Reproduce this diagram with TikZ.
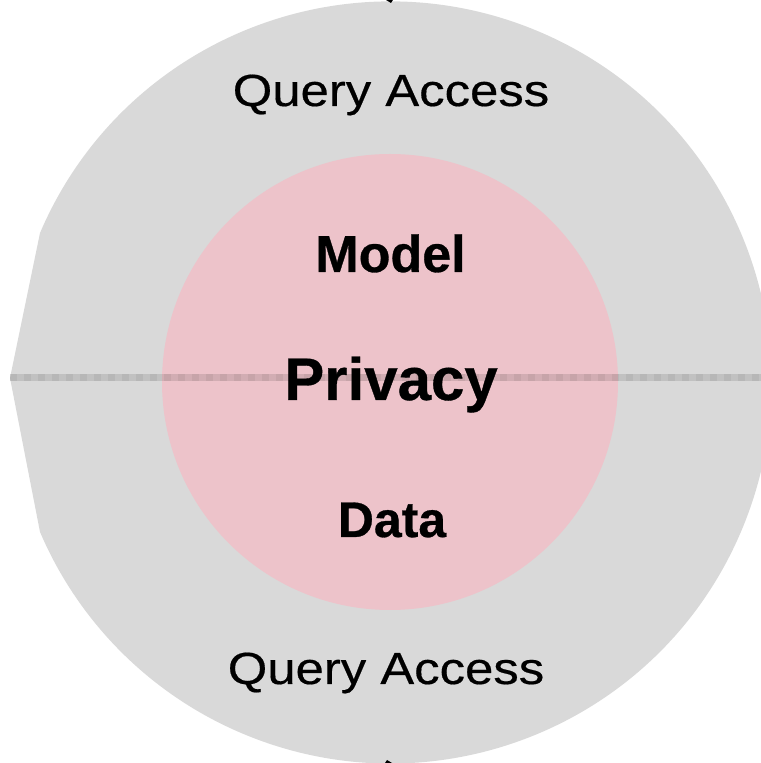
\documentclass[tikz,border=0pt]{standalone}
\usepackage{fontspec}
\setmainfont{Liberation Sans}
\newfontfamily\ringfont[FakeStretch=1.13,FakeBold=0.4]{Liberation Sans}
\newfontfamily\corefont{Liberation Sans}[BoldFont={Liberation Sans Bold},BoldFeatures={FakeBold=0.6}]
\definecolor{ringgray}{HTML}{D9D9D9}
\definecolor{corepink}{HTML}{EDC3CA}
\tikzset{
  ringlabel/.style={anchor=base, inner sep=0pt, font=\ringfont\fontsize{45bp}{50bp}\selectfont},
  corelabel/.style={anchor=base, inner sep=0pt, font=\corefont\bfseries\fontsize{#1}{#1}\selectfont},
  divider/.style={line width=7bp, black, opacity=0.11},
  dividerdash/.style={line width=7bp, black, opacity=0.05, dash pattern=on 7bp off 7bp},
}
\begin{document}
\begin{tikzpicture}[x=1bp,y=1bp]
  \useasboundingbox (0,0) rectangle (761,763);
  \clip (0,0) rectangle (761,763);
  % outer ring: a disc with a flattened left side
  \fill[ringgray] (10,385) -- (40,530)
    arc[start angle=156.9, end angle=-156.9, radius=381] -- cycle;
  % inner core
  \fill[corepink] (390,381) circle[radius=228];
  % horizontal divider
  \coordinate (dl) at (10,385);
  \coordinate (dr) at (761,385);
  \draw[divider] (dl) -- (dr);
  \draw[dividerdash] (dl) -- (dr);
  % axis tips at the top and bottom edges
  \coordinate (tt) at (390,763);
  \coordinate (bt) at (388,0);
  \fill[black] ([xshift=-4bp]tt) -- ([xshift=3bp]tt) -- ([xshift=1bp,yshift=-3bp]tt) -- cycle;
  \fill[black] ([xshift=-3bp]bt) -- ([xshift=4bp]bt) -- ([xshift=-1bp,yshift=3bp]bt) -- cycle;
  % labels
  \node[ringlabel] (qtop) at (391,657) {Query Access};
  \node[ringlabel] (qbot) at (386,79) {Query Access};
  \node[corelabel=52bp] (model) at (390.5,491) {Model};
  \node[corelabel=60bp] (privacy) at (391,363) {Privacy};
  \node[corelabel=50bp] (data) at (392,226) {Data};
\end{tikzpicture}
\end{document}
